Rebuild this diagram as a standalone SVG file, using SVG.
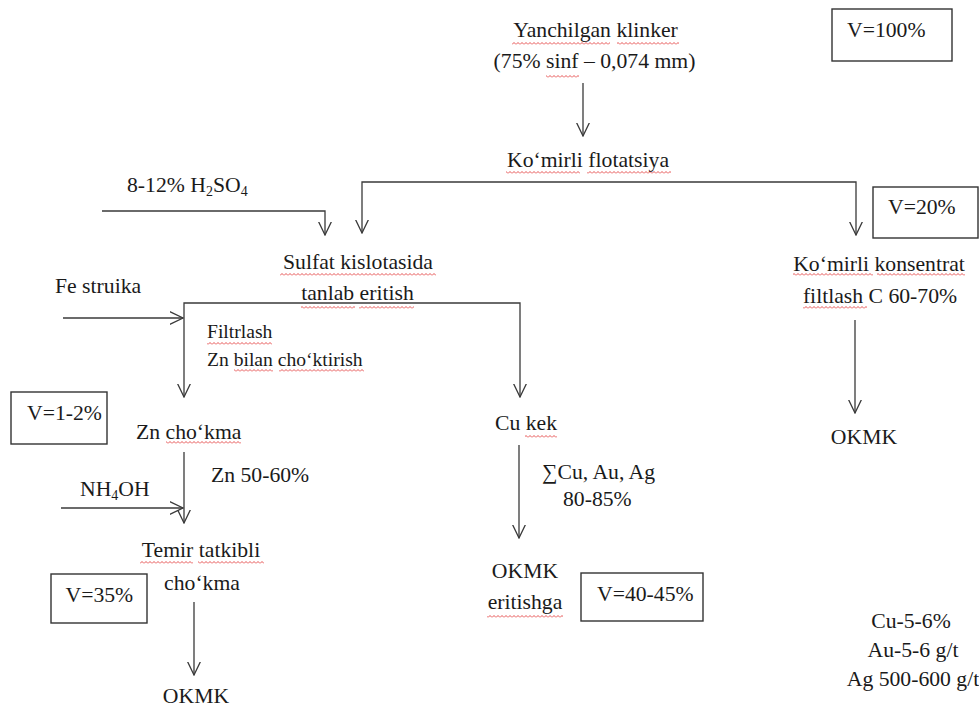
<svg xmlns="http://www.w3.org/2000/svg" width="979" height="706" viewBox="0 0 979 706">
<style>
text{font-family:"Liberation Serif","Times New Roman",serif;font-size:21.7px;fill:#1a1a1a}
.sm{font-size:19.6px}
.mid{text-anchor:middle}
.c{fill:none;stroke:#3a3a3a;stroke-width:1.3}
.box{fill:#fff;stroke:#333;stroke-width:1.4}
.sq{fill:url(#sq)}
</style>
<defs>
<marker id="ah" viewBox="0 0 14 14" refX="13.5" refY="7" markerWidth="14" markerHeight="14" markerUnits="userSpaceOnUse" orient="auto">
<path d="M0,0.5 L13.5,7 L0,13.5" fill="none" stroke="#3a3a3a" stroke-width="1.3"/>
</marker>
<pattern id="sq" width="4" height="3" patternUnits="userSpaceOnUse">
<path d="M0,2.5 L2,0.5 L4,2.5" fill="none" stroke="#e02828" stroke-width="0.8"/>
</pattern>
</defs>
<rect width="979" height="706" fill="#fff"/>

<g id="connectors">
<path class="c" d="M583,83 V136" marker-end="url(#ah)"/>
<path class="c" d="M600,182 H362 V233" marker-end="url(#ah)"/>
<path class="c" d="M600,182 H856 V235" marker-end="url(#ah)"/>
<path class="c" d="M102,211 H325 V235" marker-end="url(#ah)"/>
<path class="c" d="M350,303 H184 V397" marker-end="url(#ah)"/>
<path class="c" d="M350,303 H520 V397" marker-end="url(#ah)"/>
<path class="c" d="M63,318 H183" marker-end="url(#ah)"/>
<path class="c" d="M184,452 V523" marker-end="url(#ah)"/>
<path class="c" d="M61,508 H183" marker-end="url(#ah)"/>
<path class="c" d="M194,602 V675" marker-end="url(#ah)"/>
<path class="c" d="M519,445 V538" marker-end="url(#ah)"/>
<path class="c" d="M855,320 V413" marker-end="url(#ah)"/>
</g>

<g id="klinker">
<text class="mid" x="595.5" y="37">Yanchilgan klinker</text>
<text class="mid" x="594.5" y="68">(75% sinf – 0,074 mm)</text>
<rect class="sq" x="512" y="42" width="98" height="3"/>
<rect class="sq" x="617" y="42" width="62" height="3"/>
<rect class="sq" x="546" y="75" width="33" height="3"/>
</g>
<g id="v100"><rect class="box" x="832" y="9" width="120" height="52"/><text x="847" y="37">V=100%</text></g>

<g id="flotatsiya">
<text class="mid" x="588" y="167">Ko‘mirli flotatsiya</text>
<rect class="sq" x="506" y="171" width="74" height="3"/>
<rect class="sq" x="587" y="171" width="84" height="3"/>
</g>
<g id="v20"><rect class="box" x="873" y="187" width="105" height="51"/><text x="888" y="214">V=20%</text></g>

<g id="h2so4"><text x="127" y="192">8-12% H<tspan font-size="14" dy="4">2</tspan><tspan dy="-4">SO</tspan><tspan font-size="14" dy="4">4</tspan></text></g>

<g id="sulfat">
<text class="mid" x="358" y="269">Sulfat  kislotasida</text>
<text class="mid" x="357.5" y="300">tanlab eritish</text>
<rect class="sq" x="280" y="273" width="156" height="3"/>
<rect class="sq" x="301" y="306" width="54" height="3"/>
<rect class="sq" x="359" y="306" width="55" height="3"/>
</g>

<g id="fe"><text x="55" y="293">Fe struika</text></g>

<g id="filtrlash">
<text class="sm" x="207" y="338">Filtrlash</text>
<text class="sm" x="207" y="366">Zn bilan cho‘ktirish</text>
<rect class="sq" x="207" y="342" width="65" height="3"/>
<rect class="sq" x="234" y="369" width="39" height="3"/>
<rect class="sq" x="279" y="369" width="85" height="3"/>
</g>

<g id="v12"><rect class="box" x="11" y="392" width="96" height="52"/><text x="27" y="420">V=1-2%</text></g>

<g id="zn-chokma">
<text x="136" y="439">Zn cho‘kma</text>
<rect class="sq" x="166" y="441" width="75" height="3"/>
</g>
<g id="zn5060"><text x="211" y="482">Zn 50-60%</text></g>
<g id="nh4oh"><text x="80" y="496">NH<tspan font-size="14" dy="4">4</tspan><tspan dy="-4">OH</tspan></text></g>

<g id="temir">
<text class="mid" x="201" y="557">Temir tatkibli</text>
<text class="mid" x="202" y="590">cho‘kma</text>
<rect class="sq" x="140" y="561" width="53" height="3"/>
<rect class="sq" x="198" y="561" width="66" height="3"/>
</g>
<g id="v35"><rect class="box" x="51" y="574" width="96" height="49"/><text x="65.5" y="602">V=35%</text></g>
<g id="okmk1"><text class="mid" x="196" y="703">OKMK</text></g>

<g id="cu-kek">
<text x="495" y="430">Cu kek</text>
<rect class="sq" x="525" y="435" width="32" height="3"/>
</g>
<g id="sum"><text x="542" y="479">∑Cu, Au, Ag</text><text x="563" y="506">80-85%</text></g>
<g id="okmk2">
<text class="mid" x="525" y="578">OKMK</text>
<text class="mid" x="525" y="609">eritishga</text>
<rect class="sq" x="487" y="615" width="76" height="3"/>
</g>
<g id="v4045"><rect class="box" x="581" y="573" width="122" height="48"/><text x="597" y="601">V=40-45%</text></g>

<g id="konsentrat">
<text class="mid" x="879" y="271">Ko‘mirli konsentrat</text>
<text class="mid" x="880" y="303">filtlash C 60-70%</text>
<rect class="sq" x="793" y="273" width="80" height="3"/>
<rect class="sq" x="877" y="273" width="88" height="3"/>
<rect class="sq" x="803" y="306" width="64" height="3"/>
</g>
<g id="okmk3"><text class="mid" x="864" y="444">OKMK</text></g>

<g id="content">
<text class="mid" x="911" y="628">Cu-5-6%</text>
<text class="mid" x="913" y="657">Au-5-6 g/t</text>
<text class="mid" x="913" y="686">Ag 500-600 g/t</text>
</g>
</svg>
